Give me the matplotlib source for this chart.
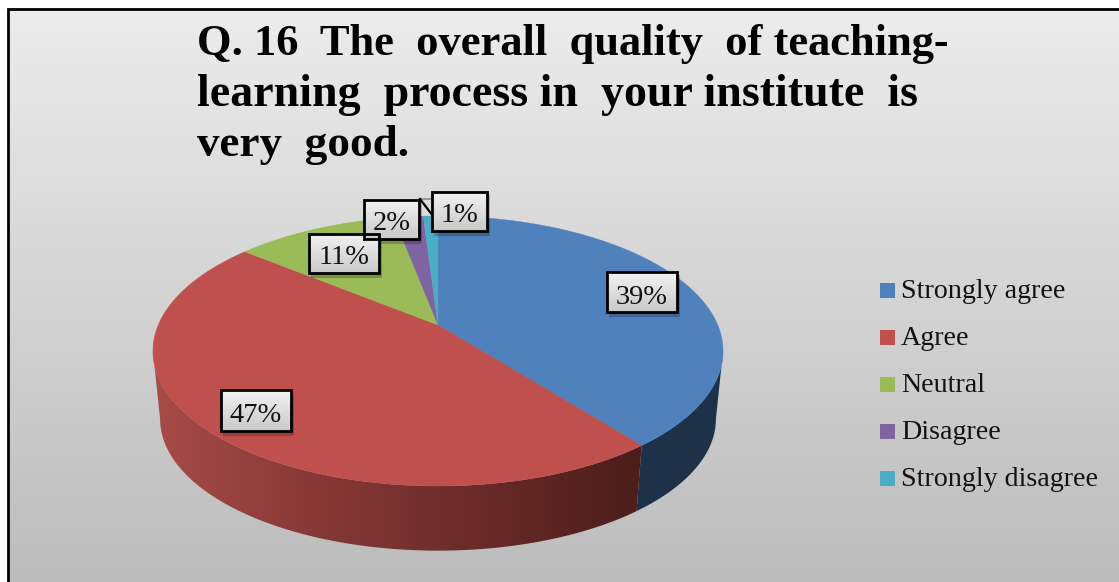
import numpy as np
import matplotlib
matplotlib.use("Agg")
import matplotlib.pyplot as plt
from matplotlib.patches import Polygon, Rectangle
from matplotlib.colors import LinearSegmentedColormap

# Data
categories = ["Strongly agree", "Agree", "Neutral", "Disagree", "Strongly disagree"]
shares = [39.4, 46.5, 11.1, 2.0, 1.0]
labels = ["39%", "47%", "11%", "2%", "1%"]
title_lines = ["Q. 16  The  overall  quality  of teaching-",
               "learning  process in  your institute  is",
               "very  good."]

colors = ["#4F81BD", "#C0504D", "#9BBB59", "#8064A2", "#4BACC6"]
title_sizes = [32.0, 33.0, 32.5]

# pie geometry, in pixels of the image
cx, cy = 438, 325
R, S, k = 279.7, 130.0, 0.1926
wall_scale, wall_drop = 0.975, 68.0
ell_y = 351

# label boxes: left, top, right, bottom
boxes = [(607, 272, 677, 312), (221, 390, 291, 431), (309, 234, 379, 273),
         (364, 200, 419, 239), (432, 192, 487, 231)]


def rim(theta):
    # theta in radians, clockwise from the back of the pie
    u, v = np.sin(theta), np.cos(theta)
    w = 1 + k * v
    return cx + R * u / w, cy - S * v / w


def lower(x, y):
    return cx + (x - cx) * wall_scale, ell_y + (y - ell_y) * wall_scale + wall_drop


def gradient(ax, extent, top, bottom, zorder):
    cmap = LinearSegmentedColormap.from_list("g", [top, bottom])
    return ax.imshow(np.linspace(0, 1, 256).reshape(-1, 1), cmap=cmap, extent=extent,
                     aspect="auto", zorder=zorder, interpolation="bilinear")


fig = plt.figure(figsize=(11.19, 5.82), dpi=100)
ax = fig.add_axes([0, 0, 1, 1])

# chart background and frame
gradient(ax, (9, 1119, 582, 10), "#ececec", "#bcbcbc", 1)
ax.plot([8, 8, 1119], [582, 9, 9], color="black", lw=2, zorder=2, solid_joinstyle="miter")

cum = np.cumsum([0] + shares) / np.sum(shares) * 2 * np.pi

# side wall: the front part of the rim, from one side extreme to the other
theta_ext = np.arccos(-k)
wall_cmap = LinearSegmentedColormap.from_list(
    "wall", [(0, "#a84c48"), (0.3, "#8a3a38"), (1, "#4a1c1a")])
for i in [0, 1]:
    lo = max(cum[i], theta_ext)
    hi = min(cum[i + 1], 2 * np.pi - theta_ext)
    t = np.linspace(lo, hi, 300)
    x, y = rim(t)
    xb, yb = lower(x, y)
    poly = np.column_stack([np.r_[x, xb[::-1]], np.r_[y, yb[::-1]]])
    patch = Polygon(poly, closed=True, facecolor="#1d3249" if i == 0 else "none",
                    edgecolor="none", zorder=3)
    ax.add_patch(patch)
    if i == 1:
        im = ax.imshow(np.linspace(0, 1, 256).reshape(1, -1), cmap=wall_cmap,
                       extent=(150, 650, 560, 340), aspect="auto", zorder=3)
        im.set_clip_path(patch)

# top face
for i in range(len(shares)):
    t = np.linspace(cum[i], cum[i + 1], 200)
    x, y = rim(t)
    ax.add_patch(Polygon(np.column_stack([np.r_[cx, x], np.r_[cy, y]]), closed=True,
                         facecolor=colors[i], edgecolor=colors[i], lw=0.3, zorder=4))

# leader line of the 1% label
ax.plot([420, 432], [199, 199], color="#8a8a8a", lw=1.2, zorder=5)
ax.plot([420, 433], [199, 216], color="black", lw=1.6, zorder=5)

# data labels
for lab, (l, t, r, b) in zip(labels, boxes):
    ax.add_patch(Rectangle((l + 2, t + 3), r - l + 1, b - t + 2, facecolor="black",
                           alpha=0.22, edgecolor="none", zorder=6))
    gradient(ax, (l, r, b, t), "#f2f2f2", "#c9c9c9", 7)
    ax.add_patch(Rectangle((l, t), r - l, b - t, facecolor="none", edgecolor="black",
                           lw=2, zorder=8))
    ax.text((l + r) / 2, b - 8.5, lab, ha="center", va="baseline", fontsize=20.5,
            family="Liberation Serif", color="#111111", zorder=9)

# legend
for i, name in enumerate(categories):
    ly = 290.5 + 47 * i
    ax.add_patch(Rectangle((880, ly - 7.5), 15, 15, facecolor=colors[i], edgecolor="none", zorder=4))
    ax.text(901, ly + 7.5, name, ha="left", va="baseline", fontsize=20.2,
            family="Liberation Serif", color="#111111", zorder=4)

# title
for i, line in enumerate(title_lines):
    ax.text(197, 55 + 50.5 * i, line, ha="left", va="baseline", fontsize=title_sizes[i],
            family="Liberation Serif", fontweight="bold", color="black", zorder=4)

ax.set_xlim(0, 1119)
ax.set_ylim(582, 0)
ax.axis("off")
fig.savefig("out.png", dpi=100, facecolor="white")
